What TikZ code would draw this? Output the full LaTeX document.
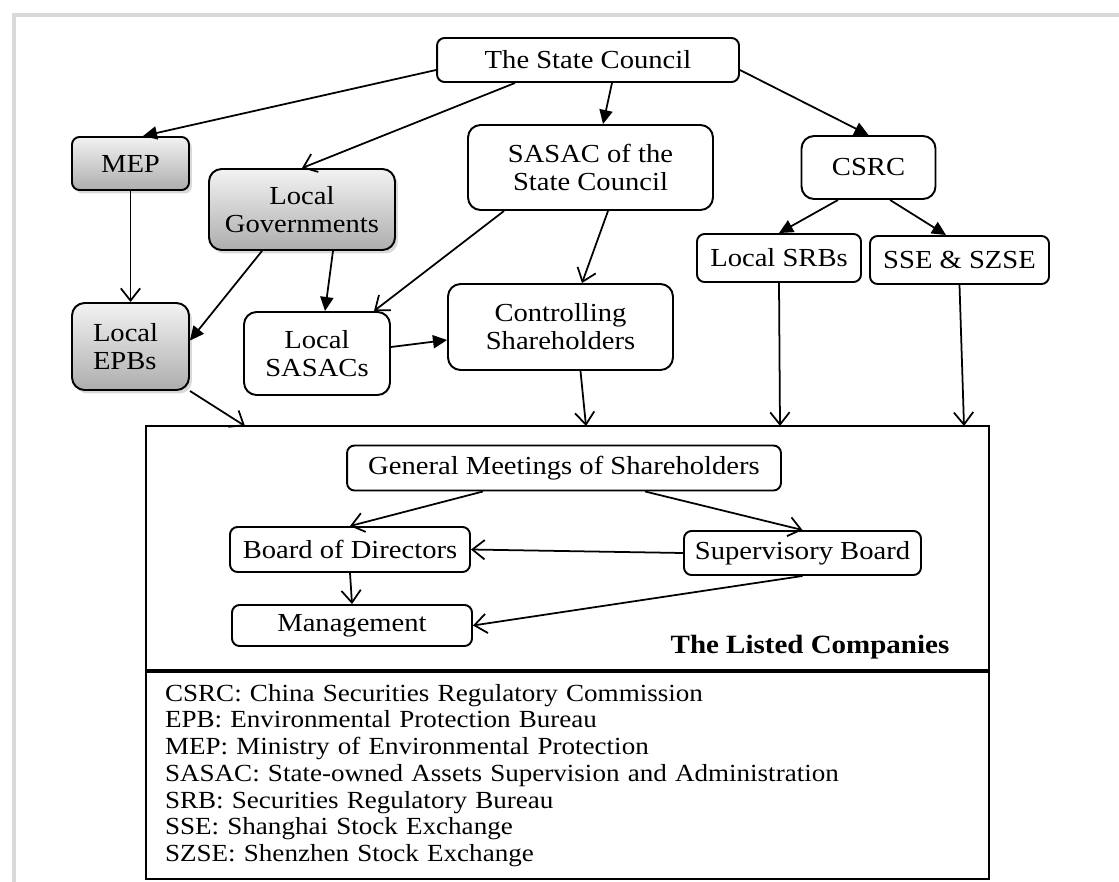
\documentclass[tikz,border=0pt]{standalone}
\usepackage{fontspec}
\setmainfont{Liberation Serif}[FakeStretch=1.1]
\usetikzlibrary{arrows.meta,shadows}

\begin{document}
\begin{tikzpicture}[x=0.02cm, y=-0.02cm,
  font=\fontsize{14.8}{16}\selectfont,
  rbox/.style={rectangle, rounded corners=0.15cm, draw=black, line width=1.1pt, align=center, inner sep=0pt},
  gbox/.style={rbox, top color=black!5, bottom color=black!32, drop shadow={shadow xshift=0.06cm, shadow yshift=-0.07cm, opacity=0.3}},
  arr/.style={-{Triangle[length=8pt,width=7.5pt]}, line width=1pt},
  varr/.style={-{Straight Barb[length=7pt,width=11pt]}, line width=1pt}]
\useasboundingbox (0,0) rectangle (1119,882);
\draw[black!15, line width=2pt] (14,882) -- (14,15) -- (1119,15);

% regulators
\node[rbox, minimum width=6.04cm, minimum height=0.88cm] (sc) at (588,60) {The State Council};
\node[gbox, minimum width=2.34cm, minimum height=1.06cm] (mep) at (130.5,163.5) {MEP};
\node[gbox, rounded corners=0.25cm, minimum width=3.72cm, minimum height=1.62cm] (lgov) at (302,209.5) {Local\\Governments};
\node[gbox, rounded corners=0.25cm, minimum width=2.34cm, minimum height=1.74cm, text width=1.5cm, align=left] (lepb) at (130.5,346.5) {Local\\EPBs};
\node[rbox, rounded corners=0.25cm, minimum width=2.92cm, minimum height=1.66cm] (lsasac) at (317,353.5) {Local\\SASACs};
\node[rbox, rounded corners=0.25cm, minimum width=4.9cm, minimum height=1.7cm] (sasac) at (590.5,167.5) {SASAC of the\\State Council};
\node[rbox, rounded corners=0.25cm, minimum width=4.5cm, minimum height=1.72cm] (ctrl) at (560.5,327) {Controlling\\Shareholders};
\node[rbox, rounded corners=0.25cm, minimum width=2.68cm, minimum height=1.26cm] (csrc) at (868.5,167.5) {CSRC};
\node[rbox, minimum width=3.28cm, minimum height=0.96cm] (lsrb) at (779,258) {Local SRBs};
\node[rbox, minimum width=3.58cm, minimum height=0.96cm] (sse) at (959.5,260) {SSE \& SZSE};

% the listed companies
\node[draw, line width=1.1pt, minimum width=16.86cm, minimum height=4.88cm, inner sep=0pt] (lc) at (567.5,548) {};
\node[rbox, minimum width=8.68cm, minimum height=0.9cm] (gm) at (564,468) {General Meetings of Shareholders};
\node[rbox, minimum width=4.8cm, minimum height=0.9cm] (bod) at (350,549.5) {Board of Directors};
\node[rbox, minimum width=4.8cm, minimum height=0.82cm] (mgmt) at (352,625.5) {Management};
\node[rbox, minimum width=4.74cm, minimum height=0.88cm] (sup) at (802.5,553) {Supervisory Board};
\node[font=\fontsize{15}{18}\bfseries\selectfont] (title) at (810,647) {The Listed Companies};

% abbreviations
\node[draw, line width=1.1pt, minimum height=4.14cm, text width=16.1cm, inner xsep=0.38cm, inner ysep=0pt, align=left, font=\fontsize{14}{15.2}\selectfont] (key) at (567.5,775.5) {CSRC: China Securities Regulatory Commission\\
EPB: Environmental Protection Bureau\\
MEP: Ministry of Environmental Protection\\
SASAC: State-owned Assets Supervision and Administration\\
SRB: Securities Regulatory Bureau\\
SSE: Shanghai Stock Exchange\\
SZSE: Shenzhen Stock Exchange};

\coordinate (t1) at (245,426);
\coordinate (t2) at (586,426);
\coordinate (t3) at (780,426);
\coordinate (t4) at (964,426);

% connectors
\draw[arr] ([yshift=-0.2cm]sc.west) -- ([xshift=0.25cm]mep.north);
\draw[varr] ([xshift=-1.46cm]sc.south) -- (lgov.north);
\draw[arr] ([xshift=0.48cm]sc.south) -- ([xshift=0.25cm]sasac.north);
\draw[arr] ([yshift=-0.2cm]sc.east) -- (csrc.north);
\draw[arr] ([xshift=-0.8cm]lgov.south) -- ([yshift=0.12cm]lepb.east);
\draw[arr] ([xshift=0.62cm]lgov.south) -- ([xshift=0.16cm]lsasac.north);
\draw[varr] ([xshift=-1.73cm]sasac.south) -- ([xshift=1.14cm]lsasac.north);
\draw[varr] ([xshift=0.35cm]sasac.south) -- ([xshift=0.43cm]ctrl.north);
\draw[arr] ([yshift=0.13cm]lsasac.east) -- ([yshift=-0.26cm]ctrl.west);
\draw[arr] ([xshift=-0.61cm]csrc.south) -- (lsrb.north);
\draw[arr] ([xshift=0.43cm]csrc.south) -- ([xshift=-0.27cm]sse.north);
\draw[varr] ([xshift=0.4cm]ctrl.south) -- (t2);
\draw[varr] ([xshift=-1.62cm]gm.south) -- (bod.north);
\draw[varr] ([xshift=1.62cm]gm.south) -- (sup.north);
\foreach \a/\b in {mep.south/lepb.north, lepb.south east/t1, lsrb.south/t3, sse.south/t4, sup.west/bod.east, bod.south/mgmt.north, sup.south/mgmt.east}
  \draw[varr] (\a) -- (\b);
\end{tikzpicture}
\end{document}
